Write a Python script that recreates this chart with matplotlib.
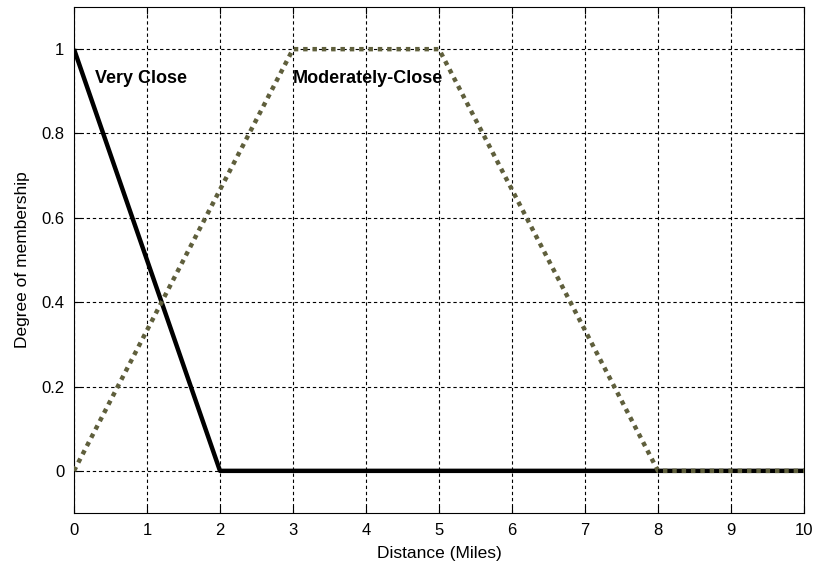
import numpy as np
import matplotlib
matplotlib.use("Agg")
import matplotlib.pyplot as plt

plt.rcParams['font.family'] = ['Liberation Sans', 'DejaVu Sans']

# membership functions (distance in miles)
very_close_x = [0, 2, 10]
very_close_y = [1, 0, 0]
mod_close_x = [0, 3, 5, 8, 10]
mod_close_y = [0, 1, 1, 0, 0]

x_ticks = [0, 1, 2, 3, 4, 5, 6, 7, 8, 9, 10]
y_ticks = [0, 0.2, 0.4, 0.6, 0.8, 1]
y_tick_labels = ['0', '0.2', '0.4', '0.6', '0.8', '1']

fig = plt.figure(figsize=(8.14, 5.68), dpi=100)
ax = fig.add_axes([0.0909, 0.0968, 0.8968, 0.8909])

ax.plot(very_close_x, very_close_y, color='black', linewidth=3.2,
        solid_capstyle='butt', zorder=2)
ax.plot(mod_close_x, mod_close_y, color='#5f5f3c', linewidth=3.2,
        linestyle=(0, (1, 1.1)), dash_capstyle='butt', zorder=3)

ax.text(0.29, 0.93, 'Very Close', fontsize=13, fontweight='bold',
        va='center', ha='left')
ax.text(2.99, 0.93, 'Moderately-Close', fontsize=13, fontweight='bold',
        va='center', ha='left')

ax.set_xlim(0, 10)
ax.set_ylim(-0.1, 1.1)
ax.set_xticks(x_ticks)
ax.set_yticks(y_ticks)
ax.set_yticklabels(y_tick_labels)
ax.tick_params(direction='in', length=5, width=0.8, top=True, right=True,
               labelsize=12, pad=7)
ax.grid(True, color='black', linestyle=(0, (3, 2.5)), linewidth=0.8)
for s in ax.spines.values():
    s.set_linewidth(0.8)

ax.set_xlabel('Distance (Miles)', fontsize=12.5, labelpad=6)
ax.set_ylabel('Degree of membership', fontsize=12.5, labelpad=8)

fig.savefig('out.png', dpi=100)
